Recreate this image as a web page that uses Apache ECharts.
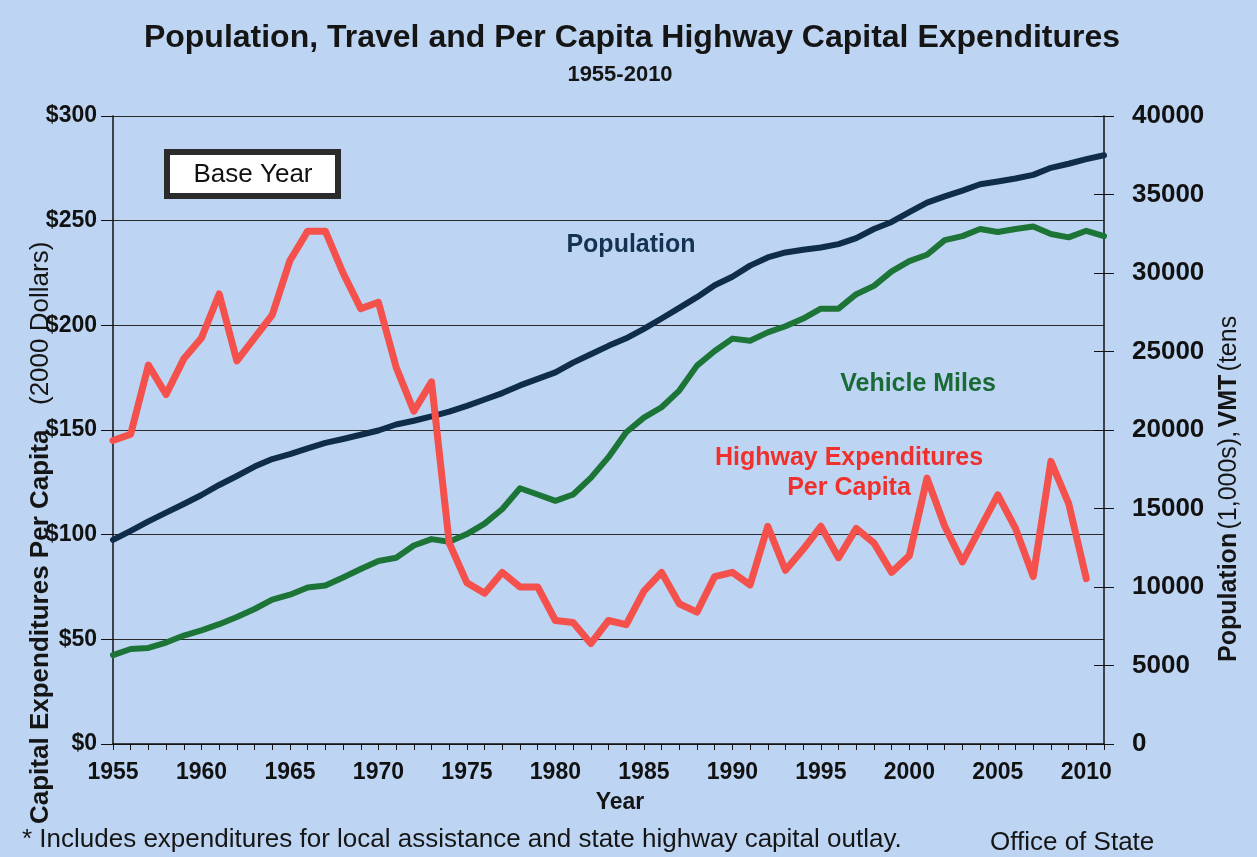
<!DOCTYPE html>
<html>
<head>
<meta charset="utf-8">
<script src="https://cdn.jsdelivr.net/npm/echarts@6/dist/echarts.min.js"></script>
<style>
  html, body { margin: 0; padding: 0; background: #bdd5f2; }
  #chart { width: 1257px; height: 857px; }
</style>
</head>
<body>
<div id="chart"></div>
<script>
const FONT = '"Liberation Sans", Arial, sans-serif';

const years = [
  '1955', '1956', '1957', '1958', '1959', '1960', '1961', '1962', '1963', '1964',
  '1965', '1966', '1967', '1968', '1969', '1970', '1971', '1972', '1973', '1974',
  '1975', '1976', '1977', '1978', '1979', '1980', '1981', '1982', '1983', '1984',
  '1985', '1986', '1987', '1988', '1989', '1990', '1991', '1992', '1993', '1994',
  '1995', '1996', '1997', '1998', '1999', '2000', '2001', '2002', '2003', '2004',
  '2005', '2006', '2007', '2008', '2009', '2010', '2011'
];

// $ per capita (2000 dollars), 1955-2010
const expenditures = [
  145, 148, 181, 167, 184, 194, 215, 183, 194, 205,
  231, 245, 245, 225, 208, 211, 180, 159, 173, 96,
  77, 72, 82, 75, 75, 59, 58, 48, 59, 57,
  73, 82, 67, 63, 80, 82, 76, 104, 83, 93,
  104, 89, 103, 96, 82, 90, 127, 104, 87, 103,
  119, 103, 80, 135, 115, 79
];

// population (1,000s), 1955-2011
const population = [
  13000, 13580, 14180, 14740, 15290, 15860, 16500, 17070, 17670, 18150,
  18460, 18830, 19180, 19430, 19700, 19970, 20350, 20590, 20870, 21170,
  21540, 21940, 22350, 22840, 23260, 23670, 24290, 24820, 25360, 25840,
  26440, 27100, 27780, 28460, 29220, 29760, 30470, 30990, 31310, 31480,
  31620, 31840, 32220, 32800, 33250, 33870, 34480, 34880, 35250, 35650,
  35830, 36020, 36250, 36700, 36960, 37250, 37500
];

// vehicle miles travelled, 1955-2011
const vehicleMiles = [
  5660, 6050, 6120, 6460, 6910, 7240, 7630, 8090, 8600, 9190,
  9510, 9970, 10090, 10610, 11150, 11660, 11860, 12640, 13050, 12880,
  13370, 14040, 14970, 16290, 15890, 15490, 15890, 16950, 18270, 19860,
  20790, 21450, 22510, 24100, 25030, 25820, 25690, 26220, 26610, 27100,
  27730, 27730, 28650, 29180, 30100, 30760, 31160, 32090, 32350, 32800,
  32610, 32800, 32960, 32480, 32270, 32690, 32350
];

const chart = echarts.init(document.getElementById('chart'));

const option = {
  backgroundColor: '#bdd5f2',
  animation: false,
  grid: { left: 113, right: 153, top: 116, bottom: 113 },
  xAxis: {
    type: 'category',
    data: years,
    boundaryGap: false,
    axisLine: { lineStyle: { color: '#111', width: 1.5 } },
    axisTick: { interval: 0, length: 6, lineStyle: { color: '#111' } },
    axisLabel: {
      interval: 4, margin: 17, color: '#111',
      fontFamily: FONT, fontWeight: 'bold', fontSize: 23
    },
    splitLine: { show: false }
  },
  yAxis: [
    {
      type: 'value', min: 0, max: 300, interval: 50, position: 'left',
      axisLine: { show: true, lineStyle: { color: '#111', width: 1.5 } },
      axisTick: { show: true, length: 12, lineStyle: { color: '#111' } },
      axisLabel: {
        margin: 16, color: '#111', formatter: v => '$' + v,
        fontFamily: FONT, fontWeight: 'bold', fontSize: 23
      },
      splitLine: { show: true, lineStyle: { color: '#2a2a2a', width: 1.2 } }
    },
    {
      type: 'value', min: 0, max: 40000, interval: 5000, position: 'right',
      axisLine: { show: true, lineStyle: { color: '#111', width: 1.5 } },
      axisTick: { show: true, length: 10, lineStyle: { color: '#111' } },
      axisLabel: {
        margin: 28, color: '#111', formatter: v => String(v),
        fontFamily: FONT, fontWeight: 'bold', fontSize: 26
      },
      splitLine: { show: false }
    },
    {
      // inner half of the right-hand ticks
      type: 'value', min: 0, max: 40000, interval: 5000, position: 'right',
      axisLine: { show: false },
      axisTick: { show: true, inside: true, length: 10, lineStyle: { color: '#111' } },
      axisLabel: { show: false },
      splitLine: { show: false }
    }
  ],
  series: [
    {
      name: 'Population', type: 'line', yAxisIndex: 1, data: population,
      showSymbol: false,
      lineStyle: { color: '#0f2d4a', width: 6, cap: 'round', join: 'round' }
    },
    {
      name: 'Vehicle Miles', type: 'line', yAxisIndex: 1, data: vehicleMiles,
      showSymbol: false,
      lineStyle: { color: '#1d7437', width: 6, cap: 'round', join: 'round' }
    },
    {
      name: 'Highway Expenditures Per Capita', type: 'line', yAxisIndex: 0, data: expenditures,
      showSymbol: false,
      lineStyle: { color: '#f4504c', width: 7, cap: 'round', join: 'round' }
    }
  ],
  graphic: [
    {
      type: 'text', x: 632, y: 38,
      style: {
        text: 'Population, Travel and Per Capita Highway Capital Expenditures',
        font: 'bold 32px ' + FONT, fill: '#151515',
        textAlign: 'center', textVerticalAlign: 'middle'
      }
    },
    {
      type: 'text', x: 620, y: 75,
      style: {
        text: '1955-2010', font: 'bold 22px ' + FONT, fill: '#151515',
        textAlign: 'center', textVerticalAlign: 'middle'
      }
    },
    {
      type: 'group', x: 167, y: 152,
      children: [
        { type: 'rect', shape: { x: 0, y: 0, width: 171, height: 44 },
          style: { fill: '#fff', stroke: '#2b2b2b', lineWidth: 6 } },
        { type: 'text', x: 86, y: 23,
          style: { text: 'Base Year', font: '26px ' + FONT, fill: '#111',
            textAlign: 'center', textVerticalAlign: 'middle' } }
      ]
    },
    {
      type: 'text', x: 631, y: 245,
      style: { text: 'Population', font: 'bold 25px ' + FONT, fill: '#143252',
        textAlign: 'center', textVerticalAlign: 'middle' }
    },
    {
      type: 'text', x: 918, y: 384,
      style: { text: 'Vehicle Miles', font: 'bold 25px ' + FONT, fill: '#1a6a38',
        textAlign: 'center', textVerticalAlign: 'middle' }
    },
    {
      type: 'text', x: 849, y: 458,
      style: { text: 'Highway Expenditures', font: 'bold 25px ' + FONT, fill: '#f0302c',
        textAlign: 'center', textVerticalAlign: 'middle' }
    },
    {
      type: 'text', x: 849, y: 488,
      style: { text: 'Per Capita', font: 'bold 25px ' + FONT, fill: '#f0302c',
        textAlign: 'center', textVerticalAlign: 'middle' }
    },
    {
      type: 'text', x: 41, y: 824, rotation: Math.PI / 2,
      style: { text: 'Capital Expenditures Per Capita', font: 'bold 26px ' + FONT,
        fill: '#151515', textAlign: 'left', textVerticalAlign: 'middle' }
    },
    {
      type: 'text', x: 41, y: 405, rotation: Math.PI / 2,
      style: { text: '(2000 Dollars)', font: '26px ' + FONT,
        fill: '#151515', textAlign: 'left', textVerticalAlign: 'middle' }
    },
    {
      type: 'text', x: 1229, y: 662, rotation: Math.PI / 2,
      style: {
        text: '{b|Population} {r|(1,000s),} {b|VMT} {r|(tens}',
        textAlign: 'left', textVerticalAlign: 'middle',
        rich: {
          b: { font: 'bold 25px ' + FONT, fill: '#151515' },
          r: { font: '25px ' + FONT, fill: '#151515' }
        }
      }
    },
    {
      type: 'text', x: 620, y: 803,
      style: { text: 'Year', font: 'bold 23px ' + FONT, fill: '#151515',
        textAlign: 'center', textVerticalAlign: 'middle' }
    },
    {
      type: 'text', x: 22, y: 840,
      style: {
        text: '* Includes expenditures for local assistance and state highway capital outlay.',
        font: '26px ' + FONT, fill: '#151515',
        textAlign: 'left', textVerticalAlign: 'middle'
      }
    },
    {
      type: 'text', x: 990, y: 843,
      style: { text: 'Office of State', font: '26px ' + FONT, fill: '#151515',
        textAlign: 'left', textVerticalAlign: 'middle' }
    }
  ]
};

chart.setOption(option);
window.addEventListener('resize', () => chart.resize());
</script>
</body>
</html>
